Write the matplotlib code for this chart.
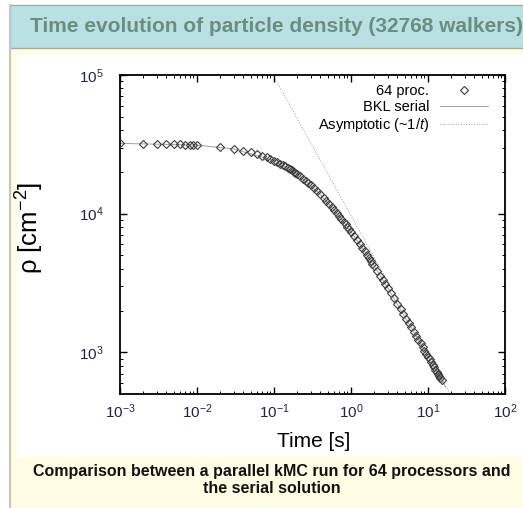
import numpy as np
import matplotlib
matplotlib.use("Agg")
import matplotlib.pyplot as plt
from matplotlib.patches import Rectangle
from matplotlib.ticker import LogLocator, NullFormatter

plt.rcParams['font.family'] = ['Liberation Sans', 'DejaVu Sans']
plt.rcParams['mathtext.fontset'] = 'custom'
plt.rcParams['mathtext.rm'] = 'Liberation Sans'
plt.rcParams['mathtext.it'] = 'Liberation Sans:italic'

###### DATA ###############################

# 64 processors, parallel kMC
par_t = [0.001, 0.002, 0.003, 0.004, 0.005, 0.006, 0.007, 0.008, 0.009, 0.01,
         0.02, 0.03, 0.04, 0.05, 0.06, 0.07, 0.08, 0.09, 0.10, 0.11, 0.12, 0.13,
         0.14, 0.15, 0.16, 0.17, 0.18, 0.19, 0.20, 0.22, 0.24, 0.26, 0.28, 0.30,
         0.33, 0.36, 0.40, 0.44, 0.48, 0.52, 0.56, 0.60, 0.65, 0.70, 0.75, 0.80,
         0.85, 0.90, 0.95, 1.0, 1.1, 1.2, 1.3, 1.4, 1.5, 1.6, 1.7, 1.8, 1.9, 2.0,
         2.2, 2.4, 2.6, 2.8, 3.0, 3.3, 3.6, 4.0, 4.4, 4.8, 5.2, 5.6, 6.0, 6.5,
         7.0, 7.5, 8.0, 8.5, 9.0, 9.5, 10.0, 10.5, 11.0, 11.5, 12.0, 12.5, 13.0,
         13.5, 14.0, 14.5, 15.0]
par_rho = [32150, 32040, 31940, 31830, 31730, 31620, 31520, 31410, 31310, 31210,
           30230, 29310, 28440, 27620, 26850, 26120, 25430, 24780, 24150, 23560,
           23000, 22460, 21950, 21460, 20990, 20540, 20110, 19700, 19310, 18560,
           17870, 17230, 16630, 16080, 15310, 14610, 13770, 13030, 12360, 11750,
           11210, 10710, 10140, 9630, 9170, 8760, 8380, 8030, 7700, 7410, 6880,
           6420, 6020, 5660, 5350, 5070, 4810, 4580, 4370, 4180, 3850, 3560,
           3320, 3100, 2920, 2670, 2470, 2240, 2050, 1890, 1750, 1630, 1530,
           1410, 1320, 1230, 1160, 1090, 1030, 980, 934, 890, 851, 815, 782,
           751, 723, 697, 672, 650, 629]

# BKL serial solution
ser_t = [0.001, 0.01, 0.03, 0.1, 0.2, 0.4, 0.7, 1.0, 1.5, 2.0, 3.0, 5.0, 7.0,
         10.0, 13.0, 15.0, 17.0]
ser_rho = [32150, 31210, 29310, 24150, 19310, 13770, 9630, 7410, 5350, 4180,
           2920, 1800, 1320, 934, 723, 629, 560]

# asymptotic ~1/t
asy_t = [0.097, 19.0]
asy_rho = [100000, 510]

###### FIGURE ########

fig = plt.figure(figsize=(5.23, 5.08), dpi=100)
W, H = 523.0, 508.0

# page decoration: yellow box, title bar, white plot area
fig.patches.append(Rectangle((10/W, 0), 1, 460/H, transform=fig.transFigure,
                             facecolor='#fffde3', edgecolor='none', zorder=-3))
fig.patches.append(Rectangle((10/W, 460/H), 1, 43/H, transform=fig.transFigure,
                             facecolor='#b9e0e3', edgecolor='#a8a8a8', lw=1.0, zorder=-2))
fig.patches.append(Rectangle((17/W, 51/H), 1, 402/H, transform=fig.transFigure,
                             facecolor='white', edgecolor='none', zorder=-2))
fig.lines.append(plt.Line2D([9.5/W, 9.5/W], [0, 503/H], transform=fig.transFigure,
                            color='#c4c4c4', lw=1.5))

fig.text(30/W, 1 - 27/H, "Time evolution of particle density (32768 walkers)",
         fontsize=15, fontweight='bold', color='#6b8e80', va='center', ha='left')
fig.text(272/W, 1 - 480/H,
         "Comparison between a parallel kMC run for 64 processors and\nthe serial solution",
         fontsize=11.5, fontweight='bold', color='#111111', ha='center', va='center',
         linespacing=1.15)

ax = fig.add_axes([120/W, 114/H, 385/W, 319/H])

ax.plot(ser_t, ser_rho, '-', color='#a0a0a0', lw=0.7, label='BKL serial', zorder=2)
ax.plot(par_t, par_rho, 'D', ms=4.2, mfc='none', mec='#3c3c3c', mew=0.8,
        label='64 proc.', zorder=3)
ax.plot(asy_t, asy_rho, ':', color='#9a9a9a', lw=0.7,
        label=r'Asymptotic (~1/$\it{t}$)', zorder=1)

ax.set_xscale('log')
ax.set_yscale('log')
ax.set_xlim(1e-3, 1e2)
ax.set_ylim(10**2.7, 1e5)

ax.xaxis.set_major_locator(LogLocator(base=10, numticks=10))
ax.yaxis.set_major_locator(LogLocator(base=10, numticks=10))
ax.xaxis.set_minor_locator(LogLocator(base=10, subs=np.arange(2, 10), numticks=20))
ax.yaxis.set_minor_locator(LogLocator(base=10, subs=np.arange(2, 10), numticks=20))
ax.xaxis.set_minor_formatter(NullFormatter())
ax.yaxis.set_minor_formatter(NullFormatter())

ax.tick_params(which='both', direction='in', top=True, right=True,
               labelsize=11, labelcolor='#222244')
ax.tick_params(which='major', length=5, width=1.0)
ax.tick_params(which='minor', length=2.5, width=0.7)
ax.tick_params(axis='x', pad=6)
ax.tick_params(axis='y', pad=12)
for s in ax.spines.values():
    s.set_linewidth(1.3)

ax.set_xlabel('Time [s]', fontsize=15)
ax.set_ylabel('\u03c1 [cm$^{-2}$]', fontsize=18.5)
ax.xaxis.set_label_coords(0.504, -0.12)
ax.yaxis.set_label_coords(-0.192, 0.52)

handles, labels = ax.get_legend_handles_labels()
order = [1, 0, 2]
leg = ax.legend([handles[i] for i in order], [labels[i] for i in order],
                loc='upper right', bbox_to_anchor=(0.955, 0.972), frameon=False,
                markerfirst=False, fontsize=10.5, handlelength=3.3, handletextpad=0.7,
                labelspacing=0.15, borderpad=0, borderaxespad=0)

plt.savefig('out.png', dpi=100)
